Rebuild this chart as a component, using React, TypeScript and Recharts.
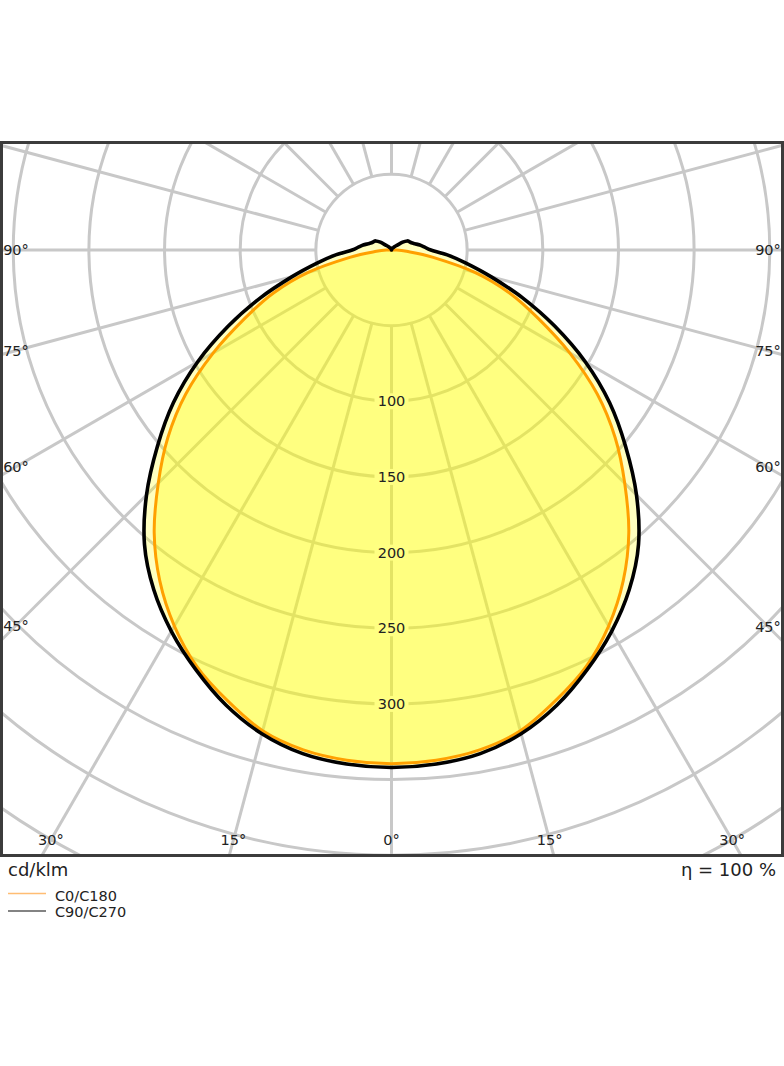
import React from "react";
import {
  RadarChart,
  Radar,
  PolarGrid,
  PolarAngleAxis,
  PolarRadiusAxis,
} from "recharts";

// luminous intensity in cd/klm, read per gamma angle (0 = nadir)
const gammaSteps = [
  0, 5, 10, 15, 20, 25, 30, 35, 40, 45, 50, 55, 60, 65, 70, 75, 80, 85, 90,
  95, 100, 105, 110, 115, 120, 125, 130, 135, 140, 145, 150, 155, 160, 165,
  170, 175, 180,
];
const c0c180 = [
  339.5, 338.5, 335.5, 329, 317, 304, 287, 267, 244, 218, 193, 166, 136, 107,
  83, 57, 28, 10, 2, 0, 0, 0, 0, 0, 0, 0, 0, 0, 0, 0, 0, 0, 0, 0, 0, 0, 0,
];
const c90c270 = [
  342, 341, 338, 331, 320, 306, 291, 274, 254, 229, 202, 176, 148, 119, 92,
  68, 50, 37, 26, 22, 19, 16, 14, 13, 12, 9, 5, 3.5, 2.5, 2, 1.5, 1, 1, 0.5,
  0.5, 0, 0,
];

const gridAngles = [
  0, 15, 30, 45, 60, 75, 90, 105, 120, 135, 150, 165, 180, 195, 210, 225, 240,
  255, 270, 285, 300, 315, 330, 345,
];
const gridRadii = [50, 100, 150, 200, 250, 300, 350, 400, 450, 500];
const radiusLabels = [100, 150, 200, 250, 300];
const maxLabelledGamma = 90;

const legendItems = [
  { name: "C0/C180", color: "#ffbd73" },
  { name: "C90/C270", color: "#5a5a5a" },
];

// full turn, mirrored halves
const polarData = Array.from({ length: 72 }, (_, i) => {
  const theta = i * 5;
  const g = theta <= 180 ? theta : 360 - theta;
  const k = gammaSteps.indexOf(g);
  return { theta, c0: c0c180[k], c90: c90c270[k] };
});
const gridData = gridAngles.map((theta) => ({ theta }));

const W = 784;
const FRAME_TOP = 142;
const H = 714;
const CX = 391.5;
const CY = 108;
const PX_PER_UNIT = 1.513;
const R_MAX = 500;
const OUTER = R_MAX * PX_PER_UNIT;
const INNER = gridRadii[0] * PX_PER_UNIT;
const EDGE_LEFT = 16;
const EDGE_RIGHT = 768;
const EDGE_BOTTOM = 698;
const FONT = "'DejaVu Sans', sans-serif";

// closed catmull-rom through the radar points
const smoothPath = (pts: { x: number; y: number }[]) => {
  const n = pts.length;
  if (!n) return "";
  let d = `M${pts[0].x},${pts[0].y}`;
  for (let i = 0; i < n; i++) {
    const p0 = pts[(i - 1 + n) % n];
    const p1 = pts[i];
    const p2 = pts[(i + 1) % n];
    const p3 = pts[(i + 2) % n];
    d +=
      `C${p1.x + (p2.x - p0.x) / 6},${p1.y + (p2.y - p0.y) / 6} ` +
      `${p2.x - (p3.x - p1.x) / 6},${p2.y - (p3.y - p1.y) / 6} ${p2.x},${p2.y}`;
  }
  return d + "Z";
};

const smoothShape =
  (fill: string, fillOpacity: number, stroke: string, strokeWidth: number) =>
  (props: any) => (
    <path
      d={smoothPath(props.points || [])}
      fill={fill}
      fillOpacity={fillOpacity}
      stroke={stroke}
      strokeWidth={strokeWidth}
      strokeLinejoin="round"
    />
  );

const AngleTick = (props: any) => {
  const { payload } = props;
  const theta = Number(payload.value);
  const g = theta <= 180 ? theta : 360 - theta;
  if (g > maxLabelledGamma) return <g />;
  const cx = props.cx ?? CX;
  const cy = props.cy ?? CY;
  const a = (payload.coordinate * Math.PI) / 180;
  const vx = Math.cos(a);
  const vy = -Math.sin(a);
  let t = Infinity;
  if (vx < -1e-6) t = Math.min(t, (EDGE_LEFT - cx) / vx);
  if (vx > 1e-6) t = Math.min(t, (EDGE_RIGHT - cx) / vx);
  if (vy > 1e-6) t = Math.min(t, (EDGE_BOTTOM - cy) / vy);
  return (
    <text
      x={cx + t * vx}
      y={cy + t * vy}
      textAnchor="middle"
      dominantBaseline="central"
      fontSize={14.5}
      fontFamily={FONT}
      fill="#222"
    >
      {g}°
    </text>
  );
};

const RadiusTick = (props: any) => {
  const { x, y, payload } = props;
  if (!radiusLabels.includes(payload.value)) return <g />;
  return (
    <g>
      <rect x={x - 17} y={y - 8} width={34} height={16} fill="#ffff82" />
      <text
        x={x}
        y={y}
        textAnchor="middle"
        dominantBaseline="central"
        fontSize={14.5}
        fontFamily={FONT}
        fill="#222"
      >
        {payload.value}
      </text>
    </g>
  );
};

const chartBox: React.CSSProperties = {
  position: "absolute",
  left: 0,
  top: FRAME_TOP,
  width: W,
  height: H,
};

export default function App() {
  return (
    <div
      style={{
        position: "absolute",
        left: 0,
        top: 0,
        width: W,
        height: 1066,
        background: "#fff",
        fontFamily: FONT,
      }}
    >
      <div style={chartBox}>
        <RadarChart
          width={W}
          height={H}
          data={gridData}
          cx={CX}
          cy={CY}
          innerRadius={INNER}
          outerRadius={OUTER}
          startAngle={-90}
          endAngle={-450}
          margin={{ top: 0, right: 0, bottom: 0, left: 0 }}
        >
          <PolarGrid gridType="circle" stroke="#c8c8c8" strokeWidth={3} />
          <PolarAngleAxis
            dataKey="theta"
            tick={AngleTick}
            axisLine={false}
            tickLine={false}
          />
          <PolarRadiusAxis
            type="number"
            domain={[gridRadii[0], R_MAX]}
            ticks={gridRadii}
            allowDataOverflow
            tick={false}
            axisLine={false}
            tickLine={false}
          />
        </RadarChart>
      </div>

      <div style={chartBox}>
        <RadarChart
          width={W}
          height={H}
          data={polarData}
          cx={CX}
          cy={CY}
          outerRadius={OUTER}
          startAngle={-90}
          endAngle={-450}
          margin={{ top: 0, right: 0, bottom: 0, left: 0 }}
        >
          <PolarAngleAxis
            dataKey="theta"
            tick={false}
            axisLine={false}
            tickLine={false}
          />
          {/* fills first, outlines on top */}
          <Radar
            dataKey="c90"
            shape={smoothShape("#ffff00", 0.25, "none", 0)}
            isAnimationActive={false}
          />
          <Radar
            dataKey="c0"
            shape={smoothShape("#ffff00", 0.33, "none", 0)}
            isAnimationActive={false}
          />
          <Radar
            name="C0/C180"
            dataKey="c0"
            shape={smoothShape("none", 0, "#ffa000", 3)}
            isAnimationActive={false}
          />
          <Radar
            name="C90/C270"
            dataKey="c90"
            shape={smoothShape("none", 0, "#000", 3.6)}
            isAnimationActive={false}
          />
          <PolarRadiusAxis
            type="number"
            angle={-90}
            domain={[0, R_MAX]}
            ticks={radiusLabels}
            allowDataOverflow
            tick={RadiusTick}
            axisLine={false}
            tickLine={false}
          />
        </RadarChart>
      </div>

      <div
        style={{
          position: "absolute",
          left: 0,
          top: 141,
          width: W,
          height: 716,
          border: "3px solid #3c3c3c",
          boxSizing: "border-box",
          pointerEvents: "none",
        }}
      />

      <svg
        width={W}
        height={80}
        style={{ position: "absolute", left: 0, top: 856 }}
      >
        <text x={8} y={20} fontSize={18} fontFamily={FONT} fill="#222">
          cd/klm
        </text>
        <text
          x={776}
          y={20}
          fontSize={18}
          fontFamily={FONT}
          fill="#222"
          textAnchor="end"
        >
          η = 100 %
        </text>
        {legendItems.map((item, i) => (
          <g key={item.name}>
            <line
              x1={8}
              x2={46}
              y1={37.5 + i * 17.5}
              y2={37.5 + i * 17.5}
              stroke={item.color}
              strokeWidth={1.5}
            />
            <text
              x={55}
              y={44.5 + i * 16.5}
              fontSize={14.5}
              fontFamily={FONT}
              fill="#222"
            >
              {item.name}
            </text>
          </g>
        ))}
      </svg>
    </div>
  );
}
